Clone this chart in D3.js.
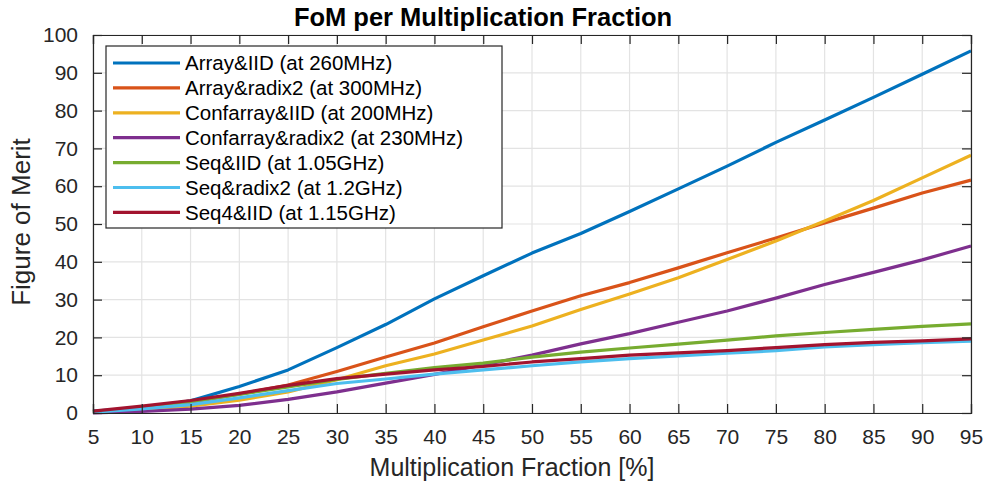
<!DOCTYPE html>
<html><head><meta charset="utf-8">
<script src="https://cdn.jsdelivr.net/npm/d3@7"></script>
<style>body{margin:0;background:#fff}svg{display:block;font-family:"Liberation Sans",Arial,sans-serif}</style>
</head><body><svg id="c" width="984" height="486"></svg>
<script>
const xValues = [5,10,15,20,25,30,35,40,45,50,55,60,65,70,75,80,85,90,95];
const seriesNames = ["Array&IID (at 260MHz)","Array&radix2 (at 300MHz)","Confarray&IID (at 200MHz)","Confarray&radix2 (at 230MHz)","Seq&IID (at 1.05GHz)","Seq&radix2 (at 1.2GHz)","Seq4&IID (at 1.15GHz)"];
const arrayIID    = [0.5,1.3,3.2,7.0,11.4,17.3,23.4,30.2,36.3,42.3,47.5,53.3,59.3,65.3,71.6,77.5,83.5,89.6,95.8];
const arrayRadix2 = [0.3,1.2,2.8,5.0,7.4,11.0,14.8,18.5,22.8,27.0,31.0,34.5,38.4,42.4,46.3,50.3,54.2,58.2,61.6];
const confIID     = [0.2,0.8,1.8,3.4,5.6,8.8,12.5,15.6,19.3,23.0,27.4,31.5,35.8,40.6,45.5,50.8,56.2,62.2,68.2];
const confRadix2  = [0.0,0.4,1.0,2.0,3.6,5.6,7.9,10.2,12.7,15.3,18.3,21.0,24.0,27.0,30.4,34.0,37.2,40.5,44.2];
const seqIID      = [0.3,1.5,3.0,4.9,6.9,8.9,10.5,12.0,13.2,14.8,16.1,17.2,18.2,19.3,20.4,21.3,22.1,22.9,23.6];
const seqRadix2   = [0.2,1.1,2.2,4.0,5.9,7.8,9.0,10.3,11.4,12.5,13.5,14.4,15.1,15.8,16.5,17.5,18.1,18.6,19.0];
const seq4IID     = [0.5,1.8,3.3,5.2,7.3,9.1,10.3,11.4,12.3,13.5,14.4,15.3,15.9,16.5,17.3,18.1,18.7,19.1,19.6];
const xTicks = [5,10,15,20,25,30,35,40,45,50,55,60,65,70,75,80,85,90,95];
const yTicks = [0,10,20,30,40,50,60,70,80,90,100];
const colors = ["#0072BD","#D95319","#EDB120","#7E2F8E","#77AC30","#4DBEEE","#A2142F"];
const allSeries = [arrayIID,arrayRadix2,confIID,confRadix2,seqIID,seqRadix2,seq4IID];

const svg = d3.select("#c");
const m = {l:93, t:35, r:13, b:73};
const W = 984 - m.l - m.r, H = 486 - m.t - m.b;
const x = d3.scaleLinear().domain([5,95]).range([0,W]);
const y = d3.scaleLinear().domain([0,100]).range([H,0]);
const g = svg.append("g").attr("transform",`translate(${m.l},${m.t})`);

// grid
g.append("g").selectAll("line").data(xTicks).join("line")
  .attr("x1",d=>x(d)).attr("x2",d=>x(d)).attr("y1",0).attr("y2",H)
  .attr("stroke","#e3e3e3").attr("stroke-width",1.2);
g.append("g").selectAll("line").data(yTicks).join("line")
  .attr("y1",d=>y(d)).attr("y2",d=>y(d)).attr("x1",0).attr("x2",W)
  .attr("stroke","#e3e3e3").attr("stroke-width",1.2);

// lines
const line = d3.line().x((d,i)=>x(xValues[i])).y(d=>y(d));
allSeries.forEach((s,k)=>{
  g.append("path").datum(s).attr("d",line).attr("fill","none")
   .attr("stroke",colors[k]).attr("stroke-width",3.2).attr("stroke-linejoin","round");
});

// axes
const axisColor = "#262626";
const tl = 9;
const xb = g.append("g").attr("transform",`translate(0,${H})`)
  .call(d3.axisBottom(x).tickValues(xTicks).tickSize(-tl).tickPadding(tl+7));
const yl = g.append("g")
  .call(d3.axisLeft(y).tickValues(yTicks).tickSize(-tl).tickPadding(tl+6));
const xt = g.append("g").call(d3.axisTop(x).tickValues(xTicks).tickSize(-tl).tickFormat(""));
const yr = g.append("g").attr("transform",`translate(${W},0)`)
  .call(d3.axisRight(y).tickValues(yTicks).tickSize(-tl).tickFormat(""));
[xb,yl,xt,yr].forEach(a=>{
  a.selectAll("path").attr("stroke",axisColor).attr("stroke-width",1.2);
  a.selectAll("line").attr("stroke",axisColor).attr("stroke-width",1.2);
  a.selectAll("text").attr("fill","#262626").style("font-size","21px")
   .style("font-family","'Liberation Sans',Arial,sans-serif");
});

// labels
svg.append("text").attr("x",483).attr("y",26).attr("text-anchor","middle")
  .style("font-size","25.5px").style("font-weight","bold").attr("fill","#000")
  .text("FoM per Multiplication Fraction");
svg.append("text").attr("x",512).attr("y",476).attr("text-anchor","middle")
  .style("font-size","25px").attr("fill","#262626").text("Multiplication Fraction [%]");
svg.append("text").attr("transform",`translate(30,222) rotate(-90)`).attr("text-anchor","middle")
  .style("font-size","26px").attr("fill","#262626").text("Figure of Merit");

// legend
const lg = svg.append("g").attr("transform","translate(106,46)");
lg.append("rect").attr("width",396).attr("height",182).attr("fill","#fff")
  .attr("stroke","#262626").attr("stroke-width",1.2);
seriesNames.forEach((n,k)=>{
  const yy = 17 + k*24.9;
  lg.append("line").attr("x1",7).attr("x2",74).attr("y1",yy).attr("y2",yy)
    .attr("stroke",colors[k]).attr("stroke-width",3.2);
  lg.append("text").attr("x",79).attr("y",yy).attr("dy","0.36em")
    .style("font-size","20.5px").attr("fill","#000").text(n);
});
</script></body></html>
